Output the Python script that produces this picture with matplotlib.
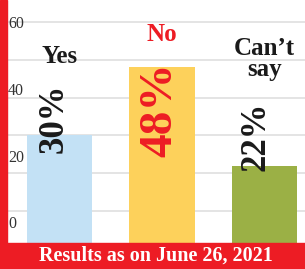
import matplotlib.pyplot as plt
from matplotlib.patches import Rectangle

# poll result
categories = ['Yes', 'No', 'Can\u2019t\nsay']
values = [30, 48, 22]
pct_labels = ['30%', '48%', '22%']
bar_colors = ['#c3e1f5', '#fdd15b', '#9bb045']
text_colors = ['#1a1a1a', '#ed1c24', '#1a1a1a']
tick_labels = ['0', '20', '40', '60']

RED = '#ed1c24'
serif = ['Liberation Serif', 'DejaVu Serif']

fig = plt.figure(figsize=(3.05, 2.69), dpi=100)
ax = fig.add_axes([8 / 305, 20 / 269, 297 / 305, 249 / 269])

x = range(len(values))
ax.bar(x, values, width=0.64, color=bar_colors, zorder=2)

ax.set_xlim(-0.502, 2.395)
ax.set_ylim(0, 65.8)
for g in range(10, 70, 10):
    ax.axhline(g, color='#e2e2e2', lw=1.3, zorder=1)
ax.axis('off')

# y labels sit a bit off the grid lines in the original
for lab, yv in zip(tick_labels, [6.6, 24.1, 41.8, 59.5]):
    ax.text(0.0, yv, lab, transform=ax.get_yaxis_transform(), ha='left',
            va='center', fontsize=11.5, color='#333333', family=serif)

# category names above the bars
for i, (c, col, yv) in enumerate(zip(categories, text_colors, [50.8, 56.6, 50.2])):
    ax.text(i, yv, c, ha='center', va='center', fontsize=18, fontweight='bold',
            color=col, family=serif, linespacing=0.9, zorder=3)

# rotated percentages
for i, (p, col, yv, dx, fs) in enumerate(zip(pct_labels, text_colors,
                                             [34.5, 36.9, 29.7],
                                             [-0.05, -0.02, -0.08],
                                             [25, 34, 25])):
    ax.text(i + dx, yv, p, ha='center', va='center', rotation=90, fontsize=fs,
            fontweight='bold', color=col, family=serif, zorder=3)

# red frame pieces: left strip and bottom banner
fig.patches.append(Rectangle((0, 0), 7 / 305, 1, transform=fig.transFigure,
                             color=RED, zorder=5))
fig.patches.append(Rectangle((0, 0), 1, 26 / 269, transform=fig.transFigure,
                             color=RED, zorder=5))
fig.text(0.51, 13 / 269, 'Results as on June 26, 2021', ha='center', va='center',
         color='white', fontsize=14.5, fontweight='bold', family=serif, zorder=6)

plt.savefig('out.png', dpi=100)
